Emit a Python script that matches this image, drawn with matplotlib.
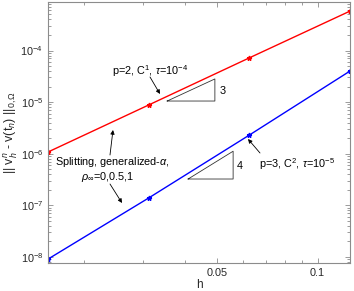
import matplotlib
matplotlib.use("Agg")
import matplotlib.pyplot as plt
from matplotlib.ticker import FixedLocator, NullFormatter, LogLocator, FixedFormatter

plt.rcParams['font.family'] = ['Liberation Sans', 'DejaVu Sans']
plt.rcParams['mathtext.fontset'] = 'custom'
plt.rcParams['mathtext.rm'] = 'Liberation Sans'
plt.rcParams['mathtext.it'] = 'Liberation Sans:italic'
plt.rcParams['mathtext.sf'] = 'Liberation Sans'

# data
h = [1/64, 1/32, 1/16, 1/8]
err_p2 = [1.08e-6, 8.8e-6, 7.2e-5, 5.8e-4]
err_p3 = [9.1e-9, 1.39e-7, 2.3e-6, 4.0e-5]
xticks_major = [0.05, 0.1]
xtick_labels = ['0.05', '0.1']
xticks_minor = [0.02, 0.03, 0.04, 0.06, 0.07, 0.08, 0.09]
# slope triangles: (h_left, h_right, y_base, slope)
tri3 = (0.0355, 0.0493, 1.05e-5, 3)
tri4 = (0.0410, 0.0559, 3.24e-7, 4)

W, Hh = 354, 291
fig = plt.figure(figsize=(W/100, Hh/100), dpi=100)
L, R, T, B = 48, 350, 2, 263
ax = fig.add_axes([L/W, 1-B/Hh, (R-L)/W, (B-T)/Hh])

ax.plot(h, err_p2, color='#ff0000', lw=1.0, marker='*', ms=3.5)
ax.plot(h, err_p3, color='#0000ff', lw=1.0, marker='*', ms=3.5)
ax.set_xscale('log')
ax.set_yscale('log')
ax.set_xlim(1/64, 1/8)
ax.set_ylim(7.65e-9, 8.7e-4)

ax.xaxis.set_major_locator(FixedLocator(xticks_major))
ax.xaxis.set_major_formatter(FixedFormatter(xtick_labels))
ax.xaxis.set_minor_locator(FixedLocator(xticks_minor))
ax.xaxis.set_minor_formatter(NullFormatter())
ax.yaxis.set_major_locator(LogLocator(base=10, numticks=20))
ax.yaxis.set_minor_locator(LogLocator(base=10, subs=range(2, 10), numticks=20))
ax.yaxis.set_minor_formatter(NullFormatter())

grey = '#8c8c8c'
for s in ax.spines.values():
    s.set_color(grey)
    s.set_linewidth(0.8)
ax.tick_params(which='both', direction='in', top=True, right=True, color=grey,
               labelsize=7.8, labelcolor='#262626', width=0.6)
ax.tick_params(which='major', length=3.5)
ax.tick_params(which='minor', length=2)

ax.set_xlabel('h', fontsize=8.5, color='#262626', labelpad=0.5)
ax.set_ylabel(r'|| v$_h^n$ - v(t$_n$) ||$_{0,\Omega}$', fontsize=9, color='#262626', labelpad=0)

# slope triangles
for (ha, hb, yb, sl) in (tri3, tri4):
    yt = yb * (hb/ha)**sl
    ax.plot([ha, hb, hb, ha], [yb, yb, yt, yb], color='#333333', lw=0.6)

def px(x, y):
    return ((x - L)/(R - L), (B - y)/(B - T))

fs = 7.8
ax.text(*px(220, 91), '3', transform=ax.transAxes, fontsize=fs, va='center', ha='left')
ax.text(*px(237, 166), '4', transform=ax.transAxes, fontsize=fs, va='center', ha='left')
ax.text(*px(112, 71), r'p=2, C$^1$, $\tau$=10$^{-4}$', transform=ax.transAxes,
        fontsize=fs, va='center', ha='left')
ax.text(*px(259, 164), r'p=3, C$^2$, $\tau$=10$^{-5}$', transform=ax.transAxes,
        fontsize=fs, va='center', ha='left')
ax.text(*px(112, 162), r'Splitting, generalized-$\alpha$,', transform=ax.transAxes,
        fontsize=fs, va='center', ha='center')
ax.text(*px(108, 177), r'$\rho_\infty$=0,0.5,1', transform=ax.transAxes,
        fontsize=fs, va='center', ha='center')

arrows = [((150, 77), (160, 94)), ((110, 155), (113, 130)),
          ((110, 184), (122, 203)), ((260, 153), (248, 139))]
for (s, e) in arrows:
    ax.annotate('', xy=px(*e), xytext=px(*s), xycoords='axes fraction',
                textcoords='axes fraction',
                arrowprops=dict(arrowstyle='-|>', color='black', lw=0.6,
                                mutation_scale=6, shrinkA=0, shrinkB=0))

fig.savefig('out.png', dpi=100)
